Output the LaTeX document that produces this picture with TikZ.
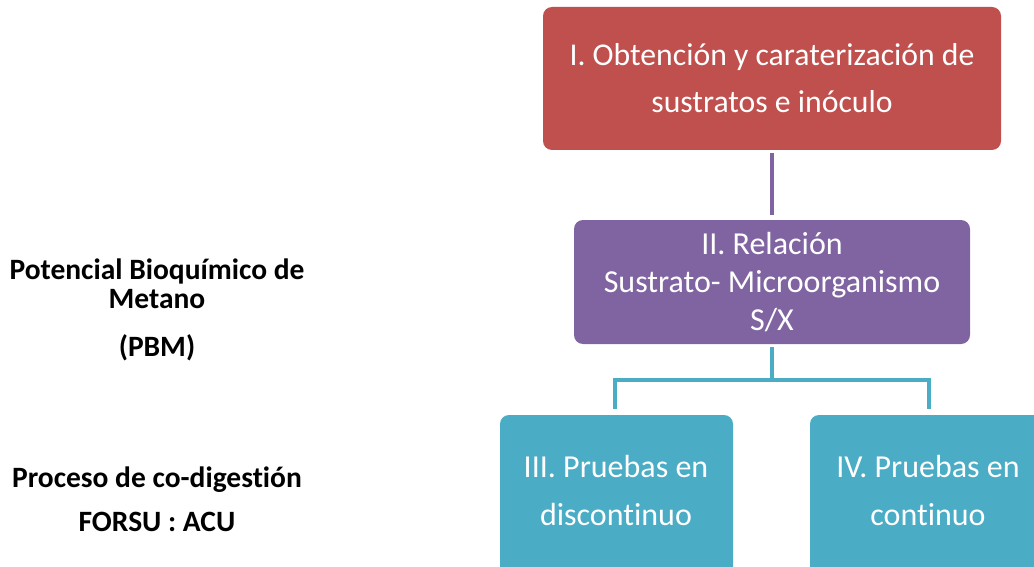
\documentclass[tikz,border=0pt]{standalone}
\usepackage{fontspec}
\setmainfont{Carlito}[Ligatures=NoCommon]
\definecolor{cred}{HTML}{C0504D}
\definecolor{cpurple}{HTML}{8064A2}
\definecolor{cteal}{HTML}{4BACC6}
\begin{document}
\begin{tikzpicture}[x=1pt,y=-1pt,
  box/.style={rounded corners=9pt, text=white, align=center, inner sep=0pt},
  side/.style={font=\fontsize{29.5}{29}\selectfont\bfseries, align=center, text=black},
  conn/.style={line width=4pt}]
\useasboundingbox (0,0) rectangle (1034,567);
\clip (0,0) rectangle (1034,567);
% boxes
\fill[cred, rounded corners=9pt] (543,7) rectangle (1001,150);
\node[box, font=\fontsize{31.7}{47}\selectfont] (b1) at (772,78.5) {I. Obtención y caraterización de\\sustratos e inóculo};
\fill[cpurple, rounded corners=9pt] (574,220) rectangle (970,344);
\node[box, font=\fontsize{32}{38}\selectfont] (b2) at (772,282) {II. Relación\\Sustrato- Microorganismo\\S/X};
\fill[cteal, rounded corners=9pt] (500,415) rectangle (733,590);
\node[box, font=\fontsize{32}{48}\selectfont] (b3) at (616,491) {III. Pruebas en\\discontinuo};
\fill[cteal, rounded corners=9pt] (810,415) rectangle (1060,590);
\node[box, font=\fontsize{32}{48}\selectfont] (b4) at (928,491) {IV. Pruebas en\\continuo};
% connectors
\coordinate (t1) at (772,153);
\coordinate (t2) at (772,215);
\draw[conn, cpurple] (t1) -- (t2);
\coordinate (p) at (772,347);
\coordinate (j) at (772,380);
\coordinate (l) at (615,409);
\coordinate (r) at (929,409);
\draw[conn, cteal] (p) -- (j);
\draw[conn, cteal, line join=miter] (l) |- (j) -| (r);
% side labels
\node[side] (s1) at (157,284) {Potencial Bioquímico de\\Metano};
\node[side] (s2) at (157,348) {(PBM)};
\node[side] (s3) at (157,480) {Proceso de co-digestión};
\node[side] (s4) at (157,522) {FORSU : ACU};
\end{tikzpicture}
\end{document}
